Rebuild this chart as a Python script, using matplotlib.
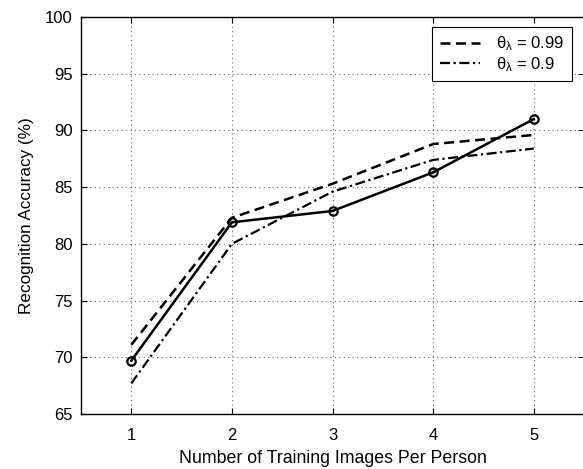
import matplotlib
matplotlib.use("Agg")
import matplotlib.pyplot as plt

plt.rcParams['font.family'] = ['Liberation Sans', 'DejaVu Sans']
plt.rcParams['mathtext.fontset'] = 'custom'
plt.rcParams['mathtext.rm'] = 'Liberation Sans'
plt.rcParams['mathtext.it'] = 'Liberation Sans'

# training images per person
n_images = [1, 2, 3, 4, 5]
# recognition accuracy (%)
acc_base = [69.7, 81.9, 82.9, 86.3, 91.0]
acc_099 = [71.1, 82.3, 85.3, 88.8, 89.6]
acc_090 = [67.7, 80.0, 84.6, 87.4, 88.4]

fig = plt.figure(figsize=(5.83, 4.69), dpi=100)
ax = fig.add_axes([81 / 583, 55 / 469, 503 / 583, 397 / 469])

l1, = ax.plot(n_images, acc_099, color='black', linestyle=(0, (4, 2.2)), linewidth=1.8)
l2, = ax.plot(n_images, acc_090, color='black', linestyle=(0, (4.5, 1.6, 1, 1.6)), linewidth=1.6)
ax.plot(n_images, acc_base, color='black', linewidth=1.8, marker='o', markersize=6,
        markerfacecolor='none', markeredgewidth=1.6)

ax.set_xlim(0.5, 5.5)
ax.set_ylim(65, 100)
ax.set_xticks(n_images)
ax.set_yticks(range(65, 101, 5))
ax.tick_params(direction='in', top=True, right=True, labelsize=12, length=4)
ax.tick_params(axis='x', pad=10)
ax.tick_params(axis='y', pad=6)
ax.grid(True, linestyle=(0, (1, 3)), color='#666666', linewidth=0.8)
for s in ax.spines.values():
    s.set_linewidth(1.0)

ax.set_xlabel("Number of Training Images Per Person", fontsize=12.8, labelpad=5)
ax.set_ylabel("Recognition Accuracy (%)", fontsize=12.3, labelpad=8)

leg = ax.legend([l1, l2], [r'$\theta_\lambda$ = 0.99', r'$\theta_\lambda$ = 0.9'],
                loc='upper right', bbox_to_anchor=(572 / 583, 1 - 27 / 469),
                bbox_transform=fig.transFigure, fontsize=12, fancybox=False,
                framealpha=1, edgecolor='black', handlelength=2.4, handletextpad=1.0,
                borderaxespad=0, labelspacing=0.1, borderpad=0.45)
leg.get_frame().set_linewidth(0.8)

fig.savefig("out.png", dpi=100)
